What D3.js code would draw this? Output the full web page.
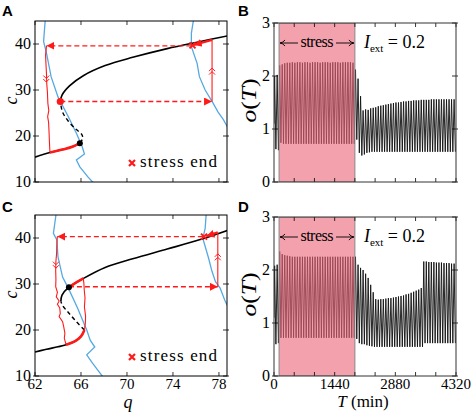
<!DOCTYPE html>
<html><head><meta charset="utf-8">
<script src="https://cdn.jsdelivr.net/npm/d3@7"></script>
<style>body{margin:0;background:#fff}</style>
</head><body>
<svg id="chart" width="473" height="418" xmlns="http://www.w3.org/2000/svg"></svg>
<script>
// ---------------- DATA ----------------
const qTicks = [62, 66, 70, 74, 78];
const cTicks = [10, 20, 30, 40];
const oTicks = [0, 1, 2, 3];
const tTicks = [0, 480, 960, 1440, 1920, 2400, 2880, 3360, 3840, 4320];
const tLabels = [0, 1440, 2880, 4320];
const stressWin = [120, 1920];
const period = 60; // min per oscillation cycle

// Panel A (phase plane)
const upperA = [[64.2,27.5],[64.35,28.9],[65.0,30.9],[66.2,33.1],[68.1,35.3],[70.5,37.1],[73.5,39.0],[76.3,40.5],[78.8,41.8]];
const lowerA = [[62,15.4],[63.3,16.4],[64.5,17.1],[65.3,17.7],[65.9,18.45]];
const unstableA = [[65.9,18.45],[66.15,19.5],[66.05,20.4],[65.6,21.4],[64.9,23.2],[64.4,25.2],[64.2,27.5]];
const blueA1 = [[62.9,45.5],[62.8,42.3],[62.75,40.5],[63.0,38],[63.4,32.9],[64.0,28.5],[64.9,24.2],[65.6,20.6],[66.1,17.7],[66.3,16.1],[65.6,14.8],[65.9,13.3],[66.6,11.1],[67.2,9.5]];
const blueA2 = [[75.8,45.5],[75.6,42.3],[75.6,39.4],[76.1,35.8],[76.3,32.9],[76.8,30],[77.5,27.1],[77.9,25.3],[78.4,23.5],[78.9,21.2]];
const redLeftA = [[63.0,39.6],[62.92,37.6],[62.95,35.8],[63.0,33.5],[63.02,31.5],[63.08,29.5],[63.12,27.1],[63.2,25.5],[63.1,24.2],[63.18,23.0],[63.22,21.0],[63.25,19.0],[63.3,16.4]];
const redLowA = [[63.3,16.4],[64.5,17.1],[65.3,17.7],[65.9,18.45]];
const redRightA = [[77.4,27.5],[77.4,40.9]];
const redThickA = [[77.4,40.9],[75.8,39.8]];
const dashTopA = [[75.6,39.6],[63.0,39.6]];
const dashBotA = [[64.2,27.5],[77.4,27.5]];
const endA = [75.7, 39.7];
const redDotA = [64.2, 27.5];
const blackDotA = [65.9, 18.45];

// Panel C (phase plane)
const upperC = [[64.25,26.2],[64.35,27.6],[64.9,29.2],[66.2,31.2],[68.1,33.6],[70.5,35.5],[73.5,37.6],[76.3,39.6],[78.8,41.7]];
const lowerC = [[62,15.2],[63,15.8],[64,16.35],[64.7,16.8],[65.5,17.6],[66.0,18.6],[66.3,20.0]];
const unstableC = [[66.3,20.0],[65.6,21.8],[64.9,23.8],[64.4,25.3],[64.25,26.2]];
const blueC1 = [[63.85,45.5],[63.6,41],[63.9,39.6],[64.0,35.9],[64.4,31.5],[64.9,29.1],[65.7,24.8],[66.5,20],[66.8,17.8],[67.2,16.3],[66.5,14.6],[67.0,12.8],[68.0,9.5]];
const blueC2 = [[76.9,45.5],[76.8,42.1],[76.6,39.9],[77.1,35.6],[77.4,32.7],[77.7,30.5],[78.1,29.1],[78.5,26.5],[78.9,24.5]];
const redLeftC = [[63.94,40.3],[63.9,38.5],[63.88,36.7],[63.82,35.0],[63.8,33.0],[63.82,31.0],[63.8,29.4],[63.95,28.2],[63.85,27.2],[64.1,26.3],[63.95,25.6],[64.15,24.8],[64.2,23.6],[64.1,22.9],[64.4,21.8],[64.5,20.7],[64.6,19.3],[64.55,18.2],[64.7,16.8]];
const redLowC = [[64.7,16.8],[65.5,17.6],[66.0,18.6],[66.3,20.0]];
const redLoopC = [[66.3,20.0],[66.38,21.5],[66.4,23.0],[66.3,25.0],[66.35,27.0],[66.28,28.8],[66.25,30.2],[66.2,31.2]];
const redUpC = [[66.2,31.2],[65.5,30.2],[64.95,29.3]];
const redRightC = [[77.9,29.4],[77.9,41.2]];
const redThickC = [[77.9,41.2],[76.9,40.4]];
const dashTopC = [[76.6,40.3],[63.94,40.3]];
const dashBotC = [[64.95,29.4],[77.9,29.4]];
const endC = [76.7, 40.3];
const blackDotC = [64.95, 29.3];

// Panel B: per-cycle peak / trough values of o(T)
const bPeaks = [2.0,2.02,
 2.2,2.22,2.24,2.25,2.25,2.26,2.25,2.26,2.26,2.25,2.26,2.26,2.25,2.26,2.26,2.26,2.25,2.26,2.26,2.26,2.25,2.26,2.26,2.26,2.25,2.26,2.26,2.26,2.26,2.25,
 2.12,1.95,1.62,1.35,1.37,1.36,1.39,1.40,1.41,1.43,1.44,1.45,1.46,1.47,1.48,1.49,1.50,1.50,1.51,1.52,1.52,1.53,1.53,1.54,1.54,1.54,1.55,1.55,1.55,1.55,1.56,1.56,1.56,1.56,1.56,1.56,1.56,1.56,1.56,1.56];
const bTroughs = [0.62,0.6,
 0.74,0.72,0.72,0.72,0.72,0.72,0.72,0.72,0.72,0.72,0.72,0.72,0.72,0.72,0.72,0.72,0.72,0.72,0.72,0.72,0.72,0.72,0.72,0.72,0.72,0.72,0.72,0.72,0.72,0.72,
 0.8,0.55,0.5,0.52,0.55,0.56,0.57,0.57,0.57,0.57,0.57,0.57,0.57,0.57,0.57,0.57,0.57,0.57,0.57,0.57,0.57,0.57,0.57,0.57,0.57,0.57,0.57,0.57,0.57,0.57,0.57,0.57,0.57,0.57,0.57,0.57,0.57,0.57,0.57,0.57];
// Panel D
const dPeaks = [2.08,2.1,
 2.35,2.3,2.28,2.27,2.26,2.25,2.25,2.25,2.25,2.25,2.25,2.25,2.25,2.25,2.25,2.25,2.25,2.25,2.25,2.25,2.25,2.25,2.25,2.25,2.25,2.25,2.25,2.25,2.25,2.25,
 2.25,2.1,2.04,2.0,1.93,1.85,1.72,1.58,1.45,1.44,1.45,1.45,1.46,1.47,1.47,1.48,1.49,1.5,1.51,1.52,1.54,1.55,1.57,1.59,1.61,1.63,1.66,
 2.16,2.16,2.15,2.15,2.15,2.14,2.14,2.14,2.13,2.13,2.13,2.12,2.12];
const dTroughs = [0.6,0.62,
 0.72,0.72,0.72,0.72,0.72,0.72,0.72,0.72,0.72,0.72,0.72,0.72,0.72,0.72,0.72,0.72,0.72,0.72,0.72,0.72,0.72,0.72,0.72,0.72,0.72,0.72,0.72,0.72,0.72,0.72,
 0.7,0.62,0.6,0.6,0.58,0.57,0.56,0.55,0.55,0.55,0.55,0.55,0.55,0.55,0.55,0.55,0.55,0.55,0.55,0.55,0.55,0.55,0.55,0.55,0.55,0.55,0.55,
 0.62,0.62,0.62,0.62,0.62,0.62,0.62,0.62,0.62,0.62,0.62,0.62,0.62];

// ---------------- DRAWING ----------------
const svg = d3.select('#chart');
svg.append('rect').attr('width',473).attr('height',418).attr('fill','#fff');
const RED = '#ff1a1a', BLUE = '#55a9e2';
const SERIF = "'Liberation Serif', 'DejaVu Serif', serif";
const SANS = "'Liberation Sans', Arial, sans-serif";

const defs = svg.append('defs');
defs.append('marker').attr('id','ah').attr('markerUnits','userSpaceOnUse')
  .attr('markerWidth',12).attr('markerHeight',10).attr('refX',8).attr('refY',4)
  .attr('orient','auto').attr('viewBox','0 0 12 10')
  .append('path').attr('d','M0,0 L8,4 L0,8 Z').attr('fill',RED);
defs.append('marker').attr('id','openA').attr('markerUnits','userSpaceOnUse')
  .attr('markerWidth',10).attr('markerHeight',10).attr('refX',9).attr('refY',5)
  .attr('orient','auto-start-reverse').attr('viewBox','0 0 10 10')
  .append('path').attr('d','M4,2 Q6,4.5 9,5 Q6,5.5 4,8').attr('fill','none').attr('stroke','#000').attr('stroke-width',0.9);

const panels = {
  A:{x0:35,x1:227,y0:21,y1:182},
  C:{x0:35,x1:227,y0:215,y1:376},
  B:{x0:274,x1:456,y0:23,y1:182},
  D:{x0:274,x1:456,y0:217,y1:376}
};

function frame(p, xs, ys, xt, yt, xLab, yLab, col){
  const g = svg.append('g');
  const tl = 4;
  xt.forEach(v=>{
    const x = xs(v);
    g.append('line').attr('x1',x).attr('x2',x).attr('y1',p.y1).attr('y2',p.y1-tl).attr('stroke','#000').attr('stroke-width',0.8);
    g.append('line').attr('x1',x).attr('x2',x).attr('y1',p.y0).attr('y2',p.y0+tl).attr('stroke','#000').attr('stroke-width',0.8);
  });
  yt.forEach(v=>{
    const y = ys(v);
    g.append('line').attr('x1',p.x0-2).attr('x2',p.x0+tl).attr('y1',y).attr('y2',y).attr('stroke','#000').attr('stroke-width',0.8);
    g.append('line').attr('x1',p.x1+2).attr('x2',p.x1-tl).attr('y1',y).attr('y2',y).attr('stroke','#000').attr('stroke-width',0.8);
  });
  g.append('rect').attr('x',p.x0).attr('y',p.y0).attr('width',p.x1-p.x0).attr('height',p.y1-p.y0)
    .attr('fill','none').attr('stroke',col||'#000').attr('stroke-width',1);
  if (yLab) yt.forEach(v=>{
    g.append('text').attr('x',p.x0-4).attr('y',ys(v)+5).attr('text-anchor','end')
      .style('font-family',SERIF).attr('font-size',16).text(v);
  });
  if (xLab) xLab.forEach(v=>{
    g.append('text').attr('x',xs(v)).attr('y',p.y1+13).attr('text-anchor','middle')
      .style('font-family',SERIF).attr('font-size',15).text(v);
  });
}

function clip(id,p){
  defs.append('clipPath').attr('id',id).append('rect')
    .attr('x',p.x0).attr('y',p.y0).attr('width',p.x1-p.x0).attr('height',p.y1-p.y0);
}

function phasePanel(key, d, showX){
  const p = panels[key];
  const xs = d3.scaleLinear().domain([62,78.7]).range([p.x0,p.x1]);
  const ys = d3.scaleLinear().domain([10,45]).range([p.y1,p.y0]);
  clip('clip'+key,p);
  const g = svg.append('g').attr('clip-path','url(#clip'+key+')');
  const sm = d3.line().x(v=>xs(v[0])).y(v=>ys(v[1])).curve(d3.curveCatmullRom.alpha(0.5));
  const ln = d3.line().x(v=>xs(v[0])).y(v=>ys(v[1]));
  d.blue.forEach(b=>g.append('path').attr('d',ln(b)).attr('fill','none').attr('stroke',BLUE).attr('stroke-width',1.3));
  g.append('path').attr('d',sm(d.upper)).attr('fill','none').attr('stroke','#000').attr('stroke-width',1.6);
  g.append('path').attr('d',sm(d.lower)).attr('fill','none').attr('stroke','#000').attr('stroke-width',1.6);
  g.append('path').attr('d',sm(d.unstable)).attr('fill','none').attr('stroke','#000').attr('stroke-width',1.4).attr('stroke-dasharray','4,3');
  d.thin.forEach(t=>g.append('path').attr('d',ln(t)).attr('fill','none').attr('stroke',RED).attr('stroke-width',1.1));
  d.thick.forEach(t=>g.append('path').attr('d',sm(t)).attr('fill','none').attr('stroke',RED).attr('stroke-width',2.6));
  g.append('path').attr('d',ln(d.thickArrow)).attr('fill','none').attr('stroke',RED).attr('stroke-width',2.4).attr('marker-end','url(#ah)');
  d.dashed.forEach(t=>g.append('path').attr('d',ln(t)).attr('fill','none').attr('stroke',RED).attr('stroke-width',1.3)
     .attr('stroke-dasharray','5,3').attr('marker-end','url(#ah)'));
  d.chev.forEach(c=>{
    const x = xs(c[0]), y = ys(c[1]), dir = c[2];
    for (let k=0;k<2;k++){
      const yy = y + dir*k*3.5;
      g.append('path').attr('d',`M${x-3},${yy-dir*3} L${x},${yy} L${x+3},${yy-dir*3}`)
        .attr('fill','none').attr('stroke',RED).attr('stroke-width',1);
    }
  });
  if (d.redDot) g.append('circle').attr('cx',xs(d.redDot[0])).attr('cy',ys(d.redDot[1])).attr('r',3.6).attr('fill',RED);
  g.append('circle').attr('cx',xs(d.blackDot[0])).attr('cy',ys(d.blackDot[1])).attr('r',3).attr('fill','#000');
  const cross = (x,y,s)=>`M${x-s},${y-s} L${x+s},${y+s} M${x-s},${y+s} L${x+s},${y-s}`;
  g.append('path').attr('d',cross(xs(d.end[0]),ys(d.end[1]),3)).attr('stroke',RED).attr('stroke-width',2);
  const lg = svg.append('g');
  const ly = p.y1 - 15;
  lg.append('path').attr('d',cross(p.x0+97,ly-4,3)).attr('stroke',RED).attr('stroke-width',2.2);
  lg.append('text').attr('x',p.x0+105).attr('y',ly).style('font-family',SERIF).attr('font-size',17)
    .attr('textLength',77).attr('lengthAdjust','spacing').text('stress end');
  frame(p, xs, ys, qTicks, cTicks, showX ? qTicks : null, true);
  svg.append('text').attr('transform',`translate(17,${(p.y0+p.y1)/2-1}) rotate(-90)`).attr('text-anchor','middle')
    .style('font-family',SERIF).attr('font-style','italic').attr('font-size',18).text('c');
}

phasePanel('A', {
  upper:upperA, lower:lowerA, unstable:unstableA, blue:[blueA1,blueA2],
  thin:[redLeftA, redRightA], thick:[redLowA], thickArrow:redThickA,
  dashed:[dashTopA, dashBotA], chev:[[62.98,32.5,1],[77.4,34.0,-1]],
  redDot:redDotA, blackDot:blackDotA, end:endA
}, false);
phasePanel('C', {
  upper:upperC, lower:lowerC, unstable:unstableC, blue:[blueC1,blueC2],
  thin:[redLeftC, redLoopC, redRightC], thick:[redLowC, redUpC], thickArrow:redThickC,
  dashed:[dashTopC, dashBotC], chev:[[63.82,34.2,1],[77.9,35.8,-1]],
  redDot:null, blackDot:blackDotC, end:endC
}, true);

function timePanel(key, peaks, troughs, showX){
  const p = panels[key];
  const xs = d3.scaleLinear().domain([0,4320]).range([p.x0,p.x1]);
  const ys = d3.scaleLinear().domain([0,3]).range([p.y1,p.y0]);
  clip('clip'+key,p);
  const g = svg.append('g').attr('clip-path','url(#clip'+key+')');
  const pts = [];
  peaks.forEach((v,i)=>{
    pts.push([i*period + period*0.25, v]);
    pts.push([i*period + period*0.75, troughs[i]]);
  });
  pts.unshift([0, 1.1]);
  const ln = d3.line().x(v=>xs(v[0])).y(v=>ys(v[1]));
  g.append('path').attr('d',ln(pts)).attr('fill','none').attr('stroke','#111').attr('stroke-width',0.9);
  g.append('rect').attr('x',xs(stressWin[0])).attr('y',p.y0).attr('width',xs(stressWin[1])-xs(stressWin[0]))
    .attr('height',p.y1-p.y0).attr('fill','rgb(236,104,122)').attr('fill-opacity',0.62)
    .attr('stroke','#888').attr('stroke-width',1);
  frame(p, xs, ys, tTicks, oTicks, showX ? tLabels : null, true, '#333');
  const ay = p.y0 + 20;
  const xl = xs(stressWin[0]), xr = xs(stressWin[1]);
  const mid = (xl+xr)/2;
  svg.append('line').attr('x1',xl+1).attr('x2',mid-19).attr('y1',ay).attr('y2',ay).attr('stroke','#000').attr('stroke-width',0.9)
    .attr('marker-start','url(#openA)');
  svg.append('line').attr('x1',mid+19).attr('x2',xr-1).attr('y1',ay).attr('y2',ay).attr('stroke','#000').attr('stroke-width',0.9)
    .attr('marker-end','url(#openA)');
  svg.append('text').attr('x',mid).attr('y',ay+4).attr('text-anchor','middle').style('font-family',SERIF).attr('font-size',16)
    .attr('textLength',33).attr('lengthAdjust','spacing').text('stress');
  const t = svg.append('text').attr('x',xr+9).attr('y',ay+5).style('font-family',SERIF).attr('font-size',18);
  t.append('tspan').attr('font-style','italic').text('I');
  t.append('tspan').attr('font-size',11).attr('dy',4).text('ext');
  t.append('tspan').attr('dy',-4).text(' = 0.2');
  svg.append('text').attr('transform',`translate(256,${(p.y0+p.y1)/2-2}) rotate(-90)`).attr('text-anchor','middle')
    .style('font-family',SERIF).attr('font-size',20).attr('textLength',44).attr('lengthAdjust','spacingAndGlyphs')
    .html('<tspan font-style="italic">o</tspan>(<tspan font-style="italic">T</tspan>)');
}
timePanel('B', bPeaks, bTroughs, false);
timePanel('D', dPeaks, dTroughs, true);

svg.append('text').attr('x',128).attr('y',408).attr('text-anchor','middle').style('font-family',SERIF)
  .attr('font-style','italic').attr('font-size',18).text('q');
const tt = svg.append('text').attr('x',363).attr('y',407).attr('text-anchor','middle').style('font-family',SERIF).attr('font-size',17);
tt.append('tspan').attr('font-style','italic').text('T');
tt.append('tspan').text(' (min)');

[['A',2,16],['B',238,16],['C',2,212],['D',238,212]].forEach(l=>{
  svg.append('text').attr('x',l[1]).attr('y',l[2]).style('font-family',SANS).attr('font-weight','bold')
    .attr('font-size',15).text(l[0]);
});
</script>
</body></html>
